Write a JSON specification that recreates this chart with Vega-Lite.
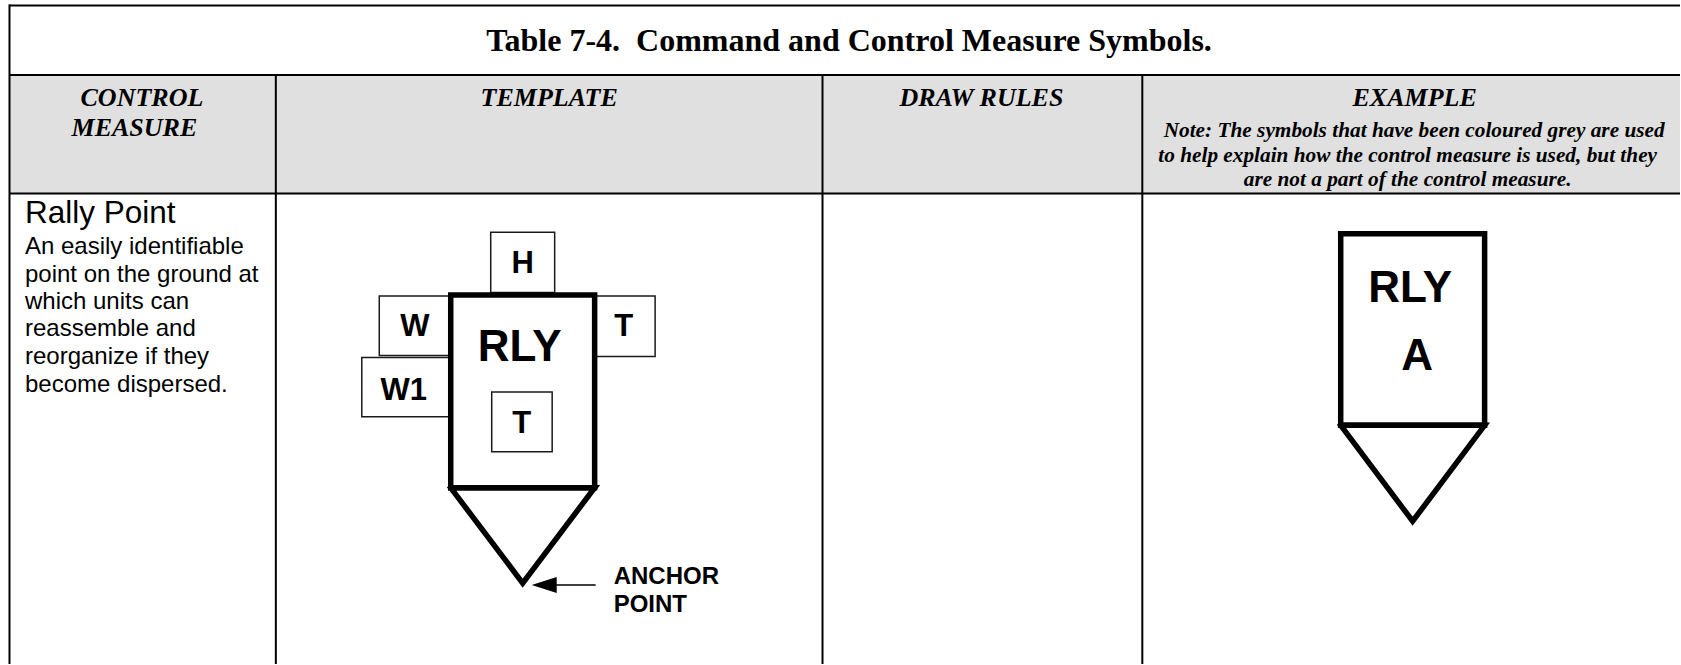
{
"$schema":"https://vega.github.io/schema/vega-lite/v6.json",
"width":1681,"height":665,"padding":0,
"autosize":{"type":"fit","contains":"padding"},
"background":"white",
"config":{"view":{"stroke":null}},
"encoding":{
 "x":{"field":"x","type":"quantitative","scale":{"domain":[0,1681],"nice":false,"zero":false},"axis":null},
 "y":{"field":"y","type":"quantitative","scale":{"domain":[665,0],"nice":false,"zero":false},"axis":null}
},
"layer":[
 {"data":{"values":[{"name":"header band","x":10,"x2":1681,"y":75,"y2":194}]},
  "mark":{"type":"rect","fill":"#e0e0e0"},
  "encoding":{"x2":{"field":"x2"},"y2":{"field":"y2"}}},
 {"data":{"values":[
   {"name":"top","x":9,"x2":1681,"y":5.5,"y2":5.5},
   {"name":"title bottom","x":9,"x2":1681,"y":75,"y2":75},
   {"name":"header bottom","x":9,"x2":1681,"y":193.7,"y2":193.7},
   {"name":"left","x":9.5,"x2":9.5,"y":4.5,"y2":665},
   {"name":"col1","x":276,"x2":276,"y":75,"y2":665},
   {"name":"col2","x":823,"x2":823,"y":75,"y2":665},
   {"name":"col3","x":1143,"x2":1143,"y":75,"y2":665}
  ]},
  "mark":{"type":"rule","stroke":"#000000","strokeWidth":2},
  "encoding":{"x2":{"field":"x2"},"y2":{"field":"y2"}}},
 {"data":{"values":[
   {"name":"H","x":491,"x2":555,"y":232.5,"y2":293},
   {"name":"W","x":379.5,"x2":451,"y":296.5,"y2":356},
   {"name":"W1","x":362,"x2":451,"y":358,"y2":417.5},
   {"name":"T right","x":595,"x2":655.5,"y":296.5,"y2":357},
   {"name":"T inner","x":492,"x2":552.5,"y":392.5,"y2":452.5}
  ]},
  "mark":{"type":"rect","fill":"#ffffff","stroke":"#1a1a1a","strokeWidth":1.5},
  "encoding":{"x2":{"field":"x2"},"y2":{"field":"y2"}}},
 {"data":{"values":[
   {"part":"template box","step":1,"x":451,"y":295.5},
   {"part":"template box","step":2,"x":595,"y":295.5},
   {"part":"template box","step":3,"x":595,"y":488.5},
   {"part":"template box","step":4,"x":451,"y":488.5},
   {"part":"template box","step":5,"x":451,"y":295.5},
   {"part":"template tri","step":1,"x":451,"y":488.5},
   {"part":"template tri","step":2,"x":595,"y":488.5},
   {"part":"template tri","step":3,"x":523,"y":584},
   {"part":"template tri","step":4,"x":451,"y":488.5},
   {"part":"example box","step":1,"x":1341.5,"y":234},
   {"part":"example box","step":2,"x":1485.5,"y":234},
   {"part":"example box","step":3,"x":1485.5,"y":426},
   {"part":"example box","step":4,"x":1341.5,"y":426},
   {"part":"example box","step":5,"x":1341.5,"y":234},
   {"part":"example tri","step":1,"x":1341.5,"y":426},
   {"part":"example tri","step":2,"x":1485.5,"y":426},
   {"part":"example tri","step":3,"x":1413.5,"y":522},
   {"part":"example tri","step":4,"x":1341.5,"y":426}
  ]},
  "mark":{"type":"line","stroke":"#000000","strokeWidth":5.5,"strokeJoin":"miter","strokeMiterLimit":10,"strokeCap":"square"},
  "encoding":{"detail":{"field":"part"},"order":{"field":"step","type":"quantitative"}}},
 {"data":{"values":[{"name":"arrow shaft","x":556,"x2":596,"y":586,"y2":586}]},
  "mark":{"type":"rule","stroke":"#000000","strokeWidth":1.5},
  "encoding":{"x2":{"field":"x2"},"y2":{"field":"y2"}}},
 {"data":{"values":[{"name":"arrow head","x":544.5,"y":586}]},
  "mark":{"type":"point","shape":"M-1,0L1,-0.64L1,0.64Z","size":625,"filled":true,"fill":"#000000","opacity":1,"strokeWidth":0}},
 {"data":{"values":[{"text":"Table 7-4.\u00a0 Command and Control Measure Symbols.","x":849.5,"y":51}]},
  "mark":{"type":"text","font":"Liberation Serif","fontWeight":"bold","fontSize":32,"align":"center","baseline":"alphabetic","fill":"#000000"},
  "encoding":{"text":{"field":"text"}}},
 {"data":{"values":[
   {"text":"CONTROL","x":142,"y":106},
   {"text":"MEASURE","x":134.5,"y":136.5},
   {"text":"TEMPLATE","x":549.5,"y":106},
   {"text":"DRAW RULES","x":982,"y":106},
   {"text":"EXAMPLE","x":1415.5,"y":106}
  ]},
  "mark":{"type":"text","font":"Liberation Serif","fontWeight":"bold","fontStyle":"italic","fontSize":26,"align":"center","baseline":"alphabetic","fill":"#000000"},
  "encoding":{"text":{"field":"text"}}},
 {"data":{"values":[
   {"text":"Note: The symbols that have been coloured grey are used","x":1415,"y":137},
   {"text":"to help explain how the control measure is used, but they","x":1408.5,"y":162},
   {"text":"are not a part of the control measure.","x":1408.5,"y":186}
  ]},
  "mark":{"type":"text","font":"Liberation Serif","fontWeight":"bold","fontStyle":"italic","fontSize":21.3,"align":"center","baseline":"alphabetic","fill":"#000000"},
  "encoding":{"text":{"field":"text"}}},
 {"data":{"values":[{"text":"Rally Point","x":25,"y":223}]},
  "mark":{"type":"text","font":"Liberation Sans","fontSize":31.5,"align":"left","baseline":"alphabetic","fill":"#000000"},
  "encoding":{"text":{"field":"text"}}},
 {"data":{"values":[
   {"text":"An easily identifiable","x":25,"y":254},
   {"text":"point on the ground at","x":25,"y":282},
   {"text":"which units can","x":25,"y":309.5},
   {"text":"reassemble and","x":25,"y":337},
   {"text":"reorganize if they","x":25,"y":365},
   {"text":"become dispersed.","x":25,"y":392.5}
  ]},
  "mark":{"type":"text","font":"Liberation Sans","fontSize":24,"align":"left","baseline":"alphabetic","fill":"#000000"},
  "encoding":{"text":{"field":"text"}}},
 {"data":{"values":[
   {"text":"RLY","x":520,"y":362},
   {"text":"RLY","x":1411,"y":302},
   {"text":"A","x":1418,"y":371}
  ]},
  "mark":{"type":"text","font":"Liberation Sans","fontWeight":"bold","fontSize":44,"align":"center","baseline":"alphabetic","fill":"#000000"},
  "encoding":{"text":{"field":"text"}}},
 {"data":{"values":[
   {"text":"H","x":523,"y":273},
   {"text":"W","x":415,"y":337},
   {"text":"W1","x":404,"y":401},
   {"text":"T","x":624,"y":337},
   {"text":"T","x":522,"y":434}
  ]},
  "mark":{"type":"text","font":"Liberation Sans","fontWeight":"bold","fontSize":31,"align":"center","baseline":"alphabetic","fill":"#000000"},
  "encoding":{"text":{"field":"text"}}},
 {"data":{"values":[
   {"text":"ANCHOR","x":614,"y":585},
   {"text":"POINT","x":614,"y":613}
  ]},
  "mark":{"type":"text","font":"Liberation Sans","fontWeight":"bold","fontSize":24,"align":"left","baseline":"alphabetic","fill":"#000000"},
  "encoding":{"text":{"field":"text"}}}
]
}
